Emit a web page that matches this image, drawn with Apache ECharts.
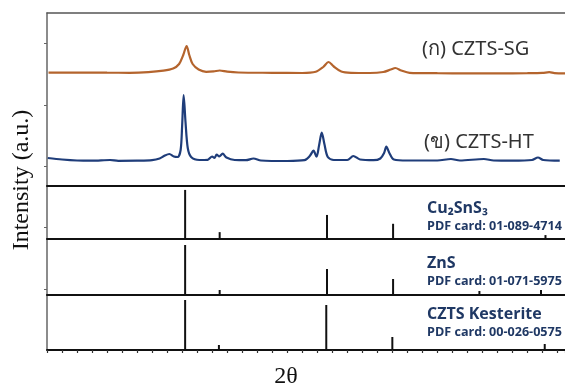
<!DOCTYPE html>
<html>
<head>
<meta charset="utf-8">
<script src="https://cdn.jsdelivr.net/npm/echarts@6/dist/echarts.min.js"></script>
<style>
  html, body { margin: 0; padding: 0; background: #fff; }
  #chart { width: 565px; height: 385px; }
</style>
</head>
<body>
<div id="chart"></div>
<script>
// XRD patterns, 2θ in degrees, intensity in arbitrary units
var sgData = [
  [10.2, 113.3], [14, 113.5], [18, 113.3], [21, 113.2], [23.5, 113.8], [25.5, 115.3],
  [26.8, 117.5], [27.6, 122], [28.15, 131], [28.6, 140], [28.95, 131], [29.4, 122],
  [30.2, 116.5], [31.2, 114.2], [32.2, 114.6], [33.0, 115.5], [34, 114.3], [35.5, 113.5],
  [40, 113.2], [44, 113], [45.8, 114.2], [46.8, 119], [47.5, 124], [48.2, 119.5],
  [49.2, 114.5], [50.5, 113.2], [53, 113], [54.8, 114], [55.8, 116.5], [56.4, 118],
  [57.2, 115.5], [58.3, 113.2], [62, 112.8], [66, 112.6], [70, 112.6], [74, 112.8],
  [76, 113.1], [76.9, 113.8], [77.6, 112.9], [79, 112.7]
];
var htData = [
  [10.1, 28], [12, 26.5], [14, 25.5], [16, 25.3], [18.4, 26], [19.5, 25.2], [22, 25.3],
  [24, 25.8], [25, 27.5], [25.7, 30.5], [26.3, 32], [26.9, 29.5], [27.4, 29], [27.8, 36],
  [28.0, 60], [28.2, 91], [28.45, 64], [28.75, 38], [29.2, 29], [30.3, 26], [31.4, 26.2],
  [32.0, 29.5], [32.3, 28], [32.6, 31.3], [32.95, 29.5], [33.4, 32.3], [33.9, 28.5],
  [35, 26], [36.5, 25.8], [37.5, 27.5], [38.5, 25.5], [42, 25], [44.3, 25.8], [45.0, 30],
  [45.5, 35.3], [45.9, 29.3], [46.25, 41], [46.6, 53.3], [46.95, 42], [47.4, 29],
  [48.2, 26], [50, 26], [50.8, 30], [51.7, 26.5], [53.5, 25.8], [54.4, 27.5], [54.9, 33],
  [55.2, 39.3], [55.6, 33], [56.2, 26.5], [58, 25.5], [62, 25.5], [63.8, 27], [65, 25.5],
  [68.2, 27], [69.5, 25.5], [72, 25.3], [74.6, 26], [75.4, 28.5], [76.1, 26], [78.3, 25.3]
];
// reference cards: [2θ, relative intensity]
var ctsSticks = [[28.4, 100], [33.0, 14], [47.3, 49], [56.1, 31], [76.4, 8]];
var znsSticks = [[28.4, 100], [33.0, 10], [47.3, 52], [56.1, 32], [67.6, 8], [75.8, 10]];
var kestSticks = [[28.4, 100], [32.9, 10], [47.2, 90], [56.0, 26], [76.3, 12]];

var sampleNames = ['(ก) CZTS-SG', '(ข) CZTS-HT'];
var cardNames = ['Cu₂SnS₃', 'ZnS', 'CZTS Kesterite'];
var cardCodes = ['PDF card: 01-089-4714', 'PDF card: 01-071-5975', 'PDF card: 00-026-0575'];

var chart = echarts.init(document.getElementById('chart'));

var grids = [
  { left: 47, top: 13, right: 0, height: 173 },
  { left: 47, top: 186, right: 0, height: 53 },
  { left: 47, top: 239, right: 0, height: 56 },
  { left: 47, top: 295, right: 0, height: 55 }
];
var yMax = [173, 108, 112, 110];
var yTicks = [[20, 81, 143], [24.5], [12], []];

var xAxes = grids.map(function (g, i) {
  return {
    type: 'value', gridIndex: i, min: 10, max: 79, interval: 10,
    axisLine: { show: true, lineStyle: { color: '#111', width: 2 } },
    axisTick: { show: i === 3, length: 3, lineStyle: { color: '#333', width: 1.2 } },
    minorTick: { show: i === 3, splitNumber: 5, length: 3, lineStyle: { color: '#333', width: 1.2 } },
    axisLabel: { show: false },
    splitLine: { show: false }
  };
});
// top border of the upper panel
xAxes.push({
  type: 'value', gridIndex: 0, position: 'top', min: 10, max: 79,
  axisLine: { show: true, lineStyle: { color: '#555', width: 1.5 } },
  axisTick: { show: false }, axisLabel: { show: false }, splitLine: { show: false }
});

var yAxes = grids.map(function (g, i) {
  return {
    type: 'value', gridIndex: i, min: 0, max: yMax[i],
    axisLine: { show: true, lineStyle: { color: '#666', width: 1.5 } },
    axisTick: { show: true, length: 3, customValues: yTicks[i], lineStyle: { color: '#666' } },
    axisLabel: { show: false },
    splitLine: { show: false }
  };
});

function stickSeries(data, idx) {
  return {
    type: 'bar', xAxisIndex: idx, yAxisIndex: idx, data: data,
    barWidth: 2, itemStyle: { color: '#111' }, silent: true
  };
}

var sampleFont = '20px "Noto Sans", "DejaVu Sans", sans-serif';
var cardFont = 'bold 16px "Open Sans", "Liberation Sans", sans-serif';
var codeFont = 'bold 12.6px "Open Sans", "Liberation Sans", sans-serif';
var cardY = [208, 263, 314];
var graphics = [
  { type: 'text', x: 422, y: 49,
    style: { text: sampleNames[0], fill: '#333', font: sampleFont, textVerticalAlign: 'middle' } },
  { type: 'text', x: 424, y: 142,
    style: { text: sampleNames[1], fill: '#333', font: sampleFont, textVerticalAlign: 'middle' } },
  {
    type: 'text', x: 22, y: 180, rotation: Math.PI / 2,
    style: { text: 'Intensity (a.u.)', fill: '#111', font: '24px "Liberation Serif", "DejaVu Serif", serif',
      textAlign: 'center', textVerticalAlign: 'middle' }
  },
  {
    type: 'text', x: 286, y: 377,
    style: { text: '2θ', fill: '#111', font: '24px "Liberation Serif", "DejaVu Serif", serif',
      textAlign: 'center', textVerticalAlign: 'middle' }
  }
];
cardNames.forEach(function (name, i) {
  graphics.push({ type: 'text', x: 427, y: cardY[i],
    style: { text: name, fill: '#1f3864', font: cardFont, textVerticalAlign: 'middle' } });
  graphics.push({ type: 'text', x: 427, y: cardY[i] + 18,
    style: { text: cardCodes[i], fill: '#1f3864', font: codeFont, textVerticalAlign: 'middle' } });
});

var option = {
  animation: false,
  grid: grids,
  xAxis: xAxes,
  yAxis: yAxes,
  series: [
    {
      name: sampleNames[0], type: 'line', xAxisIndex: 0, yAxisIndex: 0, data: sgData,
      smooth: 0.3, showSymbol: false, lineStyle: { color: '#b4642d', width: 2.2 }
    },
    {
      name: sampleNames[1], type: 'line', xAxisIndex: 0, yAxisIndex: 0, data: htData,
      smooth: 0.3, showSymbol: false, lineStyle: { color: '#1f3d7a', width: 2.2 }
    },
    stickSeries(ctsSticks, 1),
    stickSeries(znsSticks, 2),
    stickSeries(kestSticks, 3)
  ],
  graphic: graphics
};
chart.setOption(option);
</script>
</body>
</html>
